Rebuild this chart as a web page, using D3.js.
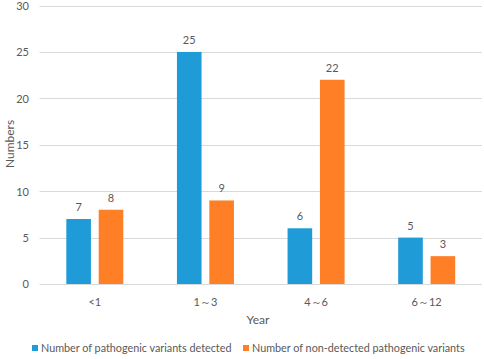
<!DOCTYPE html>
<html>
<head>
<meta charset="utf-8">
<script src="https://cdn.jsdelivr.net/npm/d3@7"></script>
<style>
  body { margin: 0; background: #fff; }
  text { font-family: Lato, "Open Sans", sans-serif; fill: #595959; }
</style>
</head>
<body>
<div id="chart"></div>
<script>
const categories = ['<1', '1～3', '4～6', '6～12'];
const detected = [7, 25, 6, 5];
const nonDetected = [8, 9, 22, 3];
const seriesNames = ['Number of pathogenic variants detected', 'Number of non-detected pathogenic variants'];
const yTicks = [0, 5, 10, 15, 20, 25, 30];

const width = 484, height = 359;
const colors = ['#1f9bd7', '#fe7f26'];

const svg = d3.select('#chart').append('svg')
  .attr('width', width).attr('height', height);

const xScale = d3.scaleBand().domain(categories).range([39.5, 482]);
const yScale = d3.scaleLinear().domain([0, 30]).range([284, 5.5]);
const inner = d3.scaleBand().domain([0, 1]).range([0, 57]).paddingInner(0.24);

// gridlines
svg.append('g').selectAll('line')
  .data(yTicks).enter()
  .append('line')
  .attr('x1', 39.5).attr('x2', 482)
  .attr('y1', d => Math.round(yScale(d)) + 0.5).attr('y2', d => Math.round(yScale(d)) + 0.5)
  .style('stroke', '#d9d9d9').style('stroke-width', 1);

// y tick labels
svg.append('g').selectAll('text')
  .data(yTicks).enter()
  .append('text')
  .attr('x', 29).attr('y', d => yScale(d) + 0.5).attr('dy', '0.35em')
  .style('text-anchor', 'end').style('font-size', '11px')
  .text(d => d);

// x tick labels
svg.append('g').selectAll('text')
  .data(categories).enter()
  .append('text')
  .attr('x', d => xScale(d) + xScale.bandwidth() / 2)
  .attr('y', 306)
  .style('text-anchor', 'middle').style('font-size', '11px')
  .text(d => d);

const data = [];
categories.forEach((c, i) => {
  data.push({ cat: c, s: 0, v: detected[i] });
  data.push({ cat: c, s: 1, v: nonDetected[i] });
});

const groupOffset = (xScale.bandwidth() - 57) / 2;

svg.append('g').selectAll('rect')
  .data(data).enter()
  .append('rect')
  .attr('x', d => xScale(d.cat) + groupOffset + inner(d.s))
  .attr('y', d => yScale(d.v))
  .attr('width', inner.bandwidth())
  .attr('height', d => yScale(0) - yScale(d.v))
  .style('fill', d => colors[d.s]);

svg.append('g').selectAll('text')
  .data(data).enter()
  .append('text')
  .attr('x', d => xScale(d.cat) + groupOffset + inner(d.s) + inner.bandwidth() / 2)
  .attr('y', d => yScale(d.v) - 8)
  .style('text-anchor', 'middle').style('font-size', '11px')
  .text(d => d.v);

// axis titles
svg.append('text')
  .attr('x', 258).attr('y', 324)
  .style('text-anchor', 'middle').style('font-size', '12px')
  .text('Year');

svg.append('text')
  .attr('transform', 'rotate(-90)')
  .attr('x', -144).attr('y', 14)
  .style('text-anchor', 'middle').style('font-size', '12px')
  .text('Numbers');

// legend
const legendX = [32, 243];
const legend = svg.append('g').selectAll('g')
  .data(seriesNames).enter()
  .append('g')
  .attr('transform', (d, i) => `translate(${legendX[i]}, 352)`);

legend.append('rect')
  .attr('x', 0).attr('y', -7)
  .attr('width', 6).attr('height', 6)
  .style('fill', (d, i) => colors[i]);

legend.append('text')
  .attr('x', 9).attr('y', 0)
  .style('font-size', '10.8px')
  .text(d => d);
</script>
</body>
</html>
